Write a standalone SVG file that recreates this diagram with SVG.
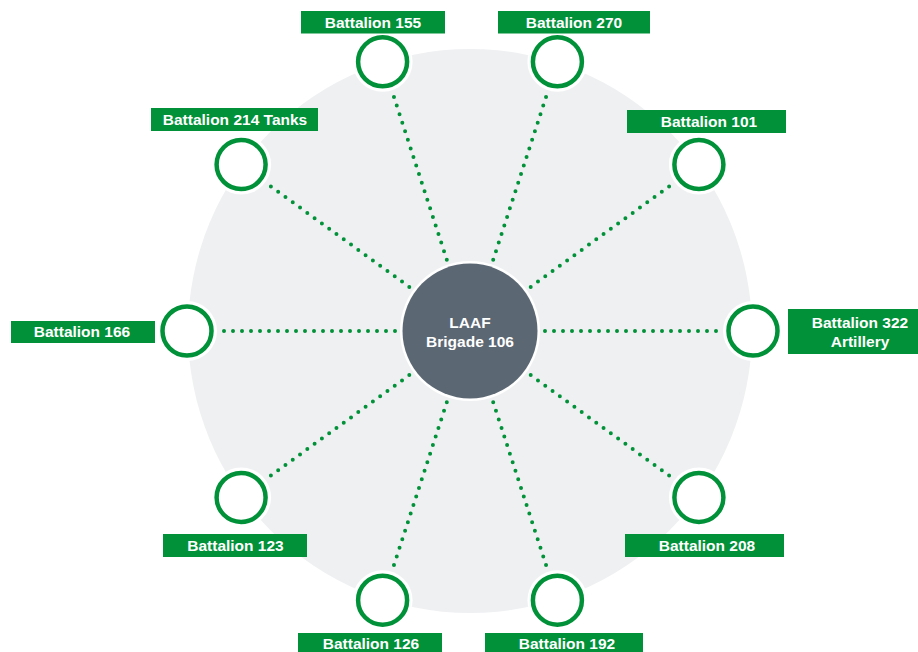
<svg xmlns="http://www.w3.org/2000/svg" width="918" height="652" viewBox="0 0 918 652">
<style>
.lbl{fill:#009139}
.t{fill:#fff;font-family:"Liberation Sans",Arial,sans-serif;font-weight:bold;font-size:15.5px;text-anchor:middle}
.halo{fill:#fff}
.ring{fill:#fff;stroke:#009139;stroke-width:4.5}
.dot{stroke:#009139;stroke-width:4;stroke-linecap:round;stroke-dasharray:0 9;fill:none}
</style>
<rect width="918" height="652" fill="#fff"/>
<circle cx="470" cy="331" r="282" fill="#eff0f2"/>
<g id="connectors">
<line class="dot" x1="545" y1="331" x2="722" y2="331"/>
<line class="dot" x1="530.7" y1="286.9" x2="673.9" y2="183.0"/>
<line class="dot" x1="493.2" y1="259.7" x2="547.9" y2="91.3"/>
<line class="dot" x1="446.8" y1="259.7" x2="392.1" y2="91.3"/>
<line class="dot" x1="409.3" y1="286.9" x2="266.1" y2="183.0"/>
<line class="dot" x1="395" y1="331" x2="218" y2="331"/>
<line class="dot" x1="409.3" y1="375.1" x2="266.1" y2="479.0"/>
<line class="dot" x1="446.8" y1="402.3" x2="392.1" y2="570.7"/>
<line class="dot" x1="493.2" y1="402.3" x2="547.9" y2="570.7"/>
<line class="dot" x1="530.7" y1="375.1" x2="673.9" y2="479.0"/>
</g>
<g id="center">
<circle cx="470" cy="331" r="70" fill="#fff"/>
<circle cx="470" cy="331" r="67.5" fill="#5b6773"/>
<text class="t" x="470" y="328">LAAF</text>
<text class="t" x="470" y="347">Brigade 106</text>
</g>
<g id="n155">
<circle class="halo" cx="382.6" cy="61.8" r="30"/>
<circle class="ring" cx="382.6" cy="61.8" r="24.5"/>
<rect class="lbl" x="301" y="11" width="144" height="22.5"/>
<text class="t" x="373" y="27.5">Battalion 155</text>
</g>
<g id="n270">
<circle class="halo" cx="557.4" cy="61.8" r="30"/>
<circle class="ring" cx="557.4" cy="61.8" r="24.5"/>
<rect class="lbl" x="498" y="11" width="152" height="22.5"/>
<text class="t" x="574" y="27.5">Battalion 270</text>
</g>
<g id="n101">
<circle class="halo" cx="698.9" cy="164.6" r="30"/>
<circle class="ring" cx="698.9" cy="164.6" r="24.5"/>
<rect class="lbl" x="627" y="110" width="159" height="23"/>
<text class="t" x="709" y="126.5">Battalion 101</text>
</g>
<g id="n214">
<circle class="halo" cx="241.1" cy="164.6" r="30"/>
<circle class="ring" cx="241.1" cy="164.6" r="24.5"/>
<rect class="lbl" x="151" y="108" width="167" height="23"/>
<text class="t" x="235" y="124.5">Battalion 214 Tanks</text>
</g>
<g id="n166">
<circle class="halo" cx="187" cy="331" r="30"/>
<circle class="ring" cx="187" cy="331" r="24.5"/>
<rect class="lbl" x="11" y="321" width="144" height="22"/>
<text class="t" x="82" y="337">Battalion 166</text>
</g>
<g id="n322">
<circle class="halo" cx="753" cy="331" r="30"/>
<circle class="ring" cx="753" cy="331" r="24.5"/>
<rect class="lbl" x="788" y="309" width="130" height="45"/>
<text class="t" x="860" y="328">Battalion 322</text>
<text class="t" x="860" y="347">Artillery</text>
</g>
<g id="n123">
<circle class="halo" cx="241.1" cy="497.4" r="30"/>
<circle class="ring" cx="241.1" cy="497.4" r="24.5"/>
<rect class="lbl" x="163" y="534" width="144" height="23"/>
<text class="t" x="235.5" y="550.5">Battalion 123</text>
</g>
<g id="n208">
<circle class="halo" cx="698.9" cy="497.4" r="30"/>
<circle class="ring" cx="698.9" cy="497.4" r="24.5"/>
<rect class="lbl" x="625" y="534" width="159" height="23"/>
<text class="t" x="707" y="550.5">Battalion 208</text>
</g>
<g id="n126">
<circle class="halo" cx="382.6" cy="600.2" r="30"/>
<circle class="ring" cx="382.6" cy="600.2" r="24.5"/>
<rect class="lbl" x="298" y="633" width="144" height="22"/>
<text class="t" x="371" y="649">Battalion 126</text>
</g>
<g id="n192">
<circle class="halo" cx="557.4" cy="600.2" r="30"/>
<circle class="ring" cx="557.4" cy="600.2" r="24.5"/>
<rect class="lbl" x="485" y="633" width="158" height="22"/>
<text class="t" x="567" y="649">Battalion 192</text>
</g>
</svg>
